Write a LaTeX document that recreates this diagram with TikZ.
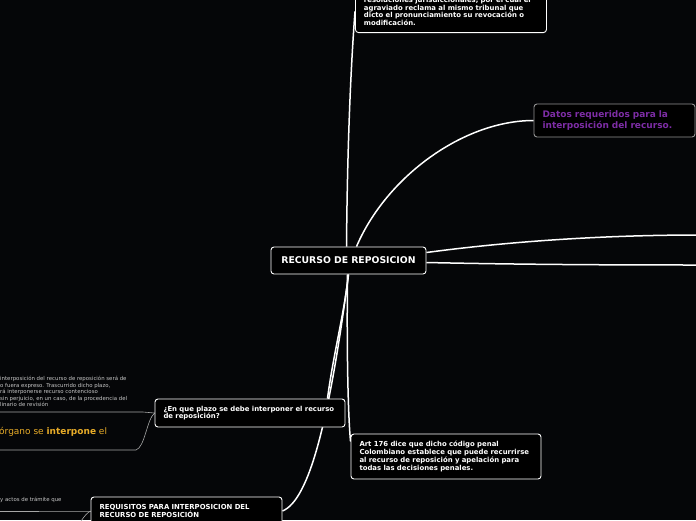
\documentclass[tikz,border=0pt]{standalone}
\usepackage{fontspec}
\setmainfont{DejaVu Sans}
\usepackage{xcolor}
\usepackage{tikz}
\pgfdeclarelayer{bg}
\pgfdeclarelayer{lines}
\pgfsetlayers{bg,lines,main}

\definecolor{bgcol}{HTML}{050608}
\definecolor{purp}{RGB}{125,45,165}
\definecolor{gold}{RGB}{232,172,40}

\begin{document}
\begin{tikzpicture}[
    x=1pt, y=-1pt,
    box/.style={draw=white, fill=black, rounded corners=3pt, line width=0.9pt, text=white, align=left,
        inner xsep=8pt, inner ysep=5pt, font=\fontsize{6.9}{7.7}\selectfont\bfseries},
    root/.style={box, align=center, font=\fontsize{9.3}{10}\selectfont\bfseries},
    datbox/.style={box, draw=gray!85, text=purp, font=\fontsize{9}{11}\selectfont\bfseries},
    main/.style={draw=white, line width=1.5pt},
    sub/.style={draw=gray!70, line width=0.6pt},
    note/.style={text=gray!45!white, align=left, inner sep=0pt, font=\fontsize{5.4}{6.5}\selectfont}
]
\begin{pgfonlayer}{bg}
\fill[bgcol] (0,0) rectangle (696,520);
\end{pgfonlayer}
\useasboundingbox (0,0) rectangle (696,520);
\clip (0,0) rectangle (696,520);

% boxes
\node[root, text width=139pt, minimum width=155pt, minimum height=27pt] (root) at (348.5,260.5) {RECURSO DE REPOSICION};
\node[box, anchor=south west, inner ysep=7pt, text width=174pt, minimum width=191pt] (def) at (355,33)
    {resoluciones jurisdiccionales, por el cual el\\agraviado reclama al mismo tribunal que\\dicto el pronunciamiento su revocación o\\modificación.};
\node[datbox, text width=144pt, minimum width=161pt, minimum height=33pt] (dat) at (614.5,120.5)
    {Datos requeridos para la\\interposición del recurso.};
\node[box, text width=173pt, minimum width=190pt, minimum height=28pt] (plazo) at (250,413)
    {¿En que plazo se debe interponer el recurso\\de reposición?};
\node[box, text width=173pt, minimum width=190pt, minimum height=45pt] (art) at (446,456.5)
    {Art 176 dice que dicho código penal\\Colombiano establece que puede recurrirse\\al recurso de reposición y apelación para\\todas las decisiones penales.};
\node[box, text width=174pt, minimum width=191pt, minimum height=28pt] (req) at (186.5,511)
    {REQUISITOS PARA INTERPOSICION DEL\\RECURSO DE REPOSICIÓN};

% loose texts
\node[note, anchor=north west] (plazotxt) at (0,376)
    {interposición del recurso de reposición será de\\o fuera expreso. Trascurrido dicho plazo,\\rá interponerse recurso contencioso\\sin perjuicio, en un caso, de la procedencia del\\linario de revisión};
\node[anchor=base west, inner sep=0pt, text=gold, font=\fontsize{9}{10}\selectfont] (organo) at (-1,434)
    {órgano se \textbf{interpone} el};
\node[note, anchor=base west] (actos) at (0,501) {y actos de trámite que};

\coordinate (r1) at (700,235);
\coordinate (r2) at (700,265);
\coordinate (n1) at (143,412);
\coordinate (n1e) at (-2,412);
\coordinate (n2) at (136,450);
\coordinate (n2e) at (-2,450);
\coordinate (n3) at (79,511);
\coordinate (n3e) at (-2,511);
\coordinate (n4) at (74,535);

% connectors
\begin{pgfonlayer}{lines}
\draw[main] ([xshift=-2pt]root.north) .. controls +(1,-120) and +(-3,40) .. (def.west);
\draw[main] ([xshift=8pt]root.north) .. controls +(30,-70) and +(-70,0) .. (dat.west);
\draw[main] ([yshift=8pt]root.east) .. controls +(90,-12) and +(-90,0) .. (r1);
\draw[main] ([yshift=-2pt]root.east) .. controls +(90,2) and +(-90,0) .. (r2);
\draw[main] (root.south) .. controls +(-4.5,40) and +(6,-45) .. ([xshift=-18pt]plazo.north east);
\draw[main] (root.south) .. controls +(-19,145) and +(27,-11) .. (req.east);
\draw[main] ([xshift=-1pt]root.south) .. controls +(-1,90) and +(-2,-20) .. ([yshift=-8pt]art.north west);
\draw[sub] (plazo.west) .. controls +(-6,0) and +(5,0) .. (n1) -- (n1e);
\draw[sub] (plazo.west) .. controls +(-8,7) and +(9,-3) .. (n2) -- (n2e);
\draw[sub] (req.west) .. controls +(-6,0) and +(5,0) .. (n3) -- (n3e);
\draw[sub] (req.west) .. controls +(-6,3) and +(4,-10) .. (n4);
\end{pgfonlayer}
\end{tikzpicture}
\end{document}
